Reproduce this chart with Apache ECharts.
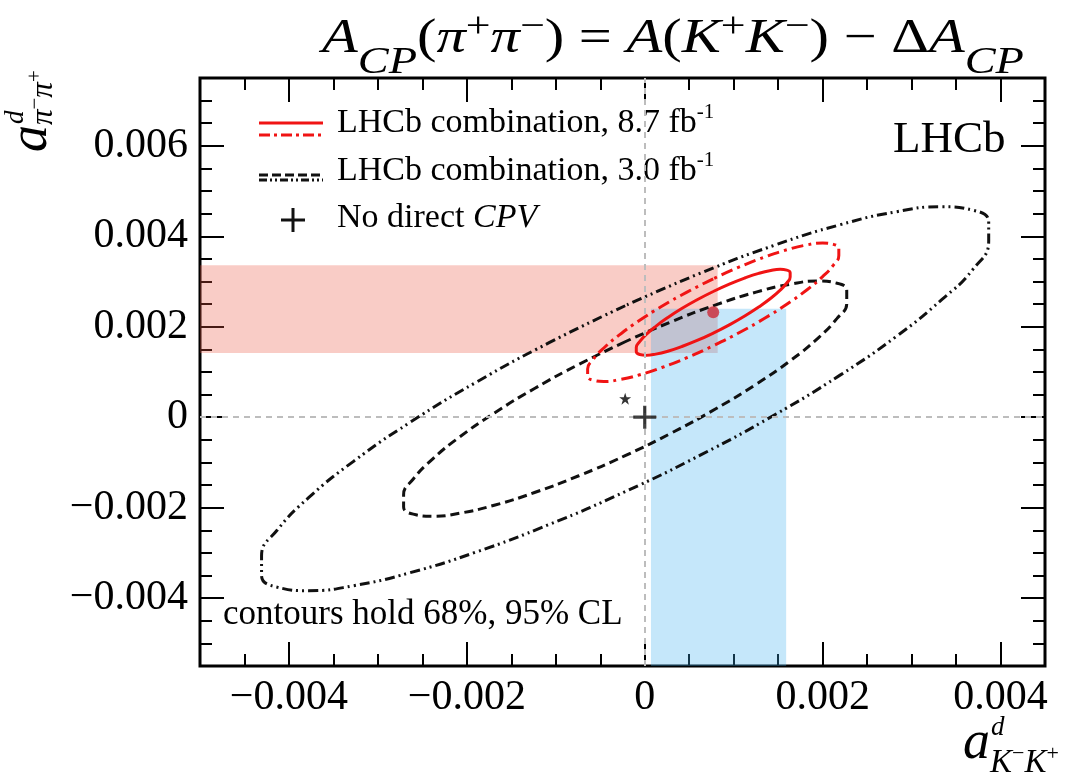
<!DOCTYPE html>
<html>
<head>
<meta charset="utf-8">
<script src="https://cdn.jsdelivr.net/npm/echarts@6/dist/echarts.min.js"></script>
<style>
  html, body { margin: 0; padding: 0; background: #fff; }
  #main { width: 1067px; height: 775px; }
</style>
</head>
<body>
<div id="main"></div>
<script>
const SERIF = '"Liberation Serif", "Times New Roman", serif';

// ---- axes ----
const xRange = [-0.005, 0.0045];
const yRange = [-0.0055, 0.0075];
const xMajorTicks = [-0.004, -0.002, 0, 0.002, 0.004];
const xMinorTicks = [-0.0045, -0.0035, -0.003, -0.0025, -0.0015, -0.001, -0.0005,
                     0.0005, 0.001, 0.0015, 0.0025, 0.003, 0.0035];
const yMajorTicks = [-0.004, -0.002, 0, 0.002, 0.004, 0.006];
const yMinorTicks = [-0.005, -0.0045, -0.0035, -0.003, -0.0025, -0.0015, -0.001, -0.0005,
                     0.0005, 0.001, 0.0015, 0.0025, 0.003, 0.0035, 0.0045, 0.005, 0.0055,
                     0.0065, 0.007];

// ---- single-observable bands ----
const pipiBandY = [0.00142, 0.00336];   // A_CP(pi+pi-) band (a_pipi direction)
const pipiBandXEnd = 0.00082;
const kkBandX = [0.00007, 0.00159];     // A(K+K-) band (a_KK direction)
const kkBandYEnd = 0.0024;

// ---- central values ----
const centre87 = [7.7e-4, 23.2e-4];     // 8.7 fb^-1 combination
const centre30 = [-2.2e-4, 4.1e-4];     // 3.0 fb^-1 combination
const noCPV = [0, 0];

// ---- confidence contours [a_KK, a_pipi] ----
const red68 = [
  [7.70e-4, 27.80e-4], [5.89e-4, 25.97e-4], [4.16e-4, 24.02e-4], [2.59e-4, 22.03e-4],
  [1.24e-4, 20.10e-4], [0.17e-4, 18.30e-4], [-0.57e-4, 16.72e-4], [-0.95e-4, 15.41e-4],
  [-0.95e-4, 14.45e-4], [-0.57e-4, 13.87e-4], [0.17e-4, 13.70e-4], [1.24e-4, 13.95e-4],
  [2.59e-4, 14.59e-4], [4.16e-4, 15.62e-4], [5.89e-4, 16.97e-4], [7.70e-4, 18.60e-4],
  [9.51e-4, 20.43e-4], [11.24e-4, 22.38e-4], [12.81e-4, 24.37e-4], [14.17e-4, 26.30e-4],
  [15.23e-4, 28.10e-4], [15.97e-4, 29.68e-4], [16.35e-4, 30.99e-4], [16.35e-4, 31.95e-4],
  [15.97e-4, 32.53e-4], [15.23e-4, 32.70e-4], [14.17e-4, 32.45e-4], [12.81e-4, 31.81e-4],
  [11.24e-4, 30.78e-4], [9.51e-4, 29.43e-4], [7.70e-4, 27.80e-4]
];
const red95 = [
  [7.70e-4, 30.61e-4], [4.75e-4, 27.66e-4], [1.92e-4, 24.52e-4], [-0.65e-4, 21.32e-4],
  [-2.85e-4, 18.21e-4], [-4.60e-4, 15.31e-4], [-5.81e-4, 12.76e-4], [-6.42e-4, 10.66e-4],
  [-6.42e-4, 9.11e-4], [-5.81e-4, 8.18e-4], [-4.60e-4, 7.90e-4], [-2.85e-4, 8.30e-4],
  [-0.65e-4, 9.34e-4], [1.92e-4, 10.99e-4], [4.75e-4, 13.17e-4], [7.70e-4, 15.79e-4],
  [10.65e-4, 18.74e-4], [13.48e-4, 21.88e-4], [16.05e-4, 25.08e-4], [18.25e-4, 28.19e-4],
  [20.00e-4, 31.09e-4], [21.21e-4, 33.64e-4], [21.82e-4, 35.74e-4], [21.82e-4, 37.29e-4],
  [21.21e-4, 38.22e-4], [20.00e-4, 38.50e-4], [18.25e-4, 38.10e-4], [16.05e-4, 37.06e-4],
  [13.48e-4, 35.41e-4], [10.65e-4, 33.23e-4], [7.70e-4, 30.61e-4]
];
const black68 = [
  [-2.20e-4, 16.69e-4], [-7.41e-4, 11.68e-4], [-12.39e-4, 6.35e-4], [-16.92e-4, 0.91e-4],
  [-20.82e-4, -4.38e-4], [-23.89e-4, -9.31e-4], [-26.02e-4, -13.65e-4], [-27.11e-4, -17.21e-4],
  [-27.11e-4, -19.84e-4], [-26.02e-4, -21.43e-4], [-23.89e-4, -21.90e-4], [-20.82e-4, -21.23e-4],
  [-16.92e-4, -19.46e-4], [-12.39e-4, -16.65e-4], [-7.41e-4, -12.94e-4], [-2.20e-4, -8.49e-4],
  [3.01e-4, -3.48e-4], [7.99e-4, 1.86e-4], [12.52e-4, 7.29e-4], [16.42e-4, 12.58e-4],
  [19.49e-4, 17.51e-4], [21.62e-4, 21.85e-4], [22.71e-4, 25.16e-4], [22.71e-4, 28.04e-4],
  [21.62e-4, 29.63e-4], [19.49e-4, 30.10e-4], [16.42e-4, 29.43e-4], [12.52e-4, 27.66e-4],
  [7.99e-4, 24.85e-4], [3.01e-4, 21.14e-4], [-2.20e-4, 16.69e-4]
];
const black95 = [
  [-2.20e-4, 24.65e-4], [-10.75e-4, 16.48e-4], [-18.92e-4, 7.77e-4], [-26.36e-4, -1.11e-4],
  [-32.74e-4, -9.75e-4], [-37.79e-4, -17.79e-4], [-41.29e-4, -24.88e-4], [-43.08e-4, -30.69e-4],
  [-43.08e-4, -34.99e-4], [-41.29e-4, -37.58e-4], [-37.79e-4, -38.34e-4], [-32.74e-4, -37.25e-4],
  [-26.36e-4, -34.36e-4], [-18.92e-4, -29.78e-4], [-10.75e-4, -23.72e-4], [-2.20e-4, -16.45e-4],
  [6.35e-4, -8.28e-4], [14.52e-4, 0.43e-4], [21.96e-4, 9.31e-4], [28.34e-4, 17.95e-4],
  [33.39e-4, 25.99e-4], [36.89e-4, 32.68e-4], [38.67e-4, 38.99e-4], [38.67e-4, 43.19e-4],
  [36.89e-4, 45.78e-4], [33.39e-4, 46.54e-4], [28.34e-4, 45.45e-4], [21.96e-4, 42.56e-4],
  [14.52e-4, 37.98e-4], [6.35e-4, 31.92e-4], [-2.20e-4, 24.65e-4]
];

const RED = '#f01414';
const BLACK = '#111111';

// ---- text helpers (baseline-aligned runs of serif text) ----
const meas = document.createElement('canvas').getContext('2d');
function fontOf(size, italic) { return (italic ? 'italic ' : '') + size + 'px ' + SERIF; }
function textWidth(t, size, italic) { meas.font = fontOf(size, italic); return meas.measureText(t).width; }
function txt(t, size, italic, x, base) {
  return {
    type: 'text', x: x, y: base - 0.3375 * size, silent: true,
    style: {
      text: t, font: fontOf(size, italic), fill: '#000',
      textAlign: 'left', textVerticalAlign: 'middle', align: 'left', verticalAlign: 'middle'
    }
  };
}
// parts: [text, size, italic, baselineShift]
function runText(parts, x0, base) {
  let x = x0;
  const out = [];
  parts.forEach(function (p) {
    out.push(txt(p[0], p[1], p[2], x, base + (p[3] || 0)));
    x += textWidth(p[0], p[1], p[2]);
  });
  return out;
}
function hline(x1, x2, y, color, width, dash) {
  return {
    type: 'line', silent: true,
    shape: { x1: x1, y1: y, x2: x2, y2: y },
    style: { stroke: color, lineWidth: width, lineDash: dash || null }
  };
}

// title
const titleParts = [
  ['A', 48, true], ['CP', 38, true, 20], ['(', 48, false], ['\u03C0', 48, true],
  ['+', 36, false, -16], ['\u03C0', 48, true], ['\u2212', 36, false, -16], [')', 48, false],
  [' = ', 48, false], ['A', 48, true], ['(', 48, false], ['K', 48, true],
  ['+', 36, false, -16], ['K', 48, true], ['\u2212', 36, false, -16], [')', 48, false],
  [' \u2212 ', 48, false], ['\u0394', 48, false], ['A', 48, true], ['CP', 38, true, 20]
];

// axis names
const aW = textWidth('a', 54, true);
const xNameEls = [
  txt('a', 54, true, 963, 762),
  txt('d', 27, true, 963 + aW + 1, 737)
].concat(runText([['K', 33, true], ['\u2212', 22, false, -12], ['K', 33, true], ['+', 22, false, -12]],
                 963 + aW, 774));
const yNameEls = [
  txt('a', 54, true, 0, 0),
  txt('d', 27, true, aW + 1, -25)
].concat(runText([['\u03C0', 31, true], ['\u2212', 21, false, -11], ['\u03C0', 31, true], ['+', 21, false, -11]],
                 aW, 4));

// legend
const legendEls = [
  hline(259, 323, 123, RED, 3),
  hline(259, 323, 135, RED, 3, [11, 4, 3, 4]),
  hline(259, 323, 175, BLACK, 3, [9, 4]),
  hline(259, 323, 180, BLACK, 3, [8, 3, 2, 3, 2, 3]),
  hline(281, 305, 220, BLACK, 3),
  { type: 'line', silent: true, shape: { x1: 293, y1: 208, x2: 293, y2: 232 }, style: { stroke: BLACK, lineWidth: 3 } }
].concat(
  runText([['LHCb combination, 8.7 fb', 34, false], ['-1', 21, false, -15]], 337, 135),
  runText([['LHCb combination, 3.0 fb', 34, false], ['-1', 21, false, -15]], 337, 183),
  runText([['No direct ', 34, false], ['CPV', 34, true]], 337, 230)
);

const chart = echarts.init(document.getElementById('main'), null, { renderer: 'canvas' });

function tickAxis(dim, position, values, len, labels) {
  const ax = {
    type: 'value', position: position,
    min: dim === 'x' ? xRange[0] : yRange[0],
    max: dim === 'x' ? xRange[1] : yRange[1],
    axisLine: { show: false, onZero: false },
    splitLine: { show: false },
    axisTick: { show: true, inside: true, length: len, customValues: values,
                lineStyle: { color: '#000', width: 2 } },
    axisLabel: { show: false }
  };
  if (labels) {
    ax.axisLabel = {
      show: true, customValues: values, color: '#000',
      fontFamily: SERIF, fontSize: 42, margin: dim === 'x' ? 11 : 12,
      formatter: function (v) {
        if (Math.abs(v) < 1e-12) return '0';
        return v.toFixed(3).replace('-', '\u2212');
      }
    };
  }
  return ax;
}

const option = {
  animation: false,
  backgroundColor: '#fff',
  grid: {
    left: 200, right: 22, top: 78, bottom: 109,
    show: true, borderColor: '#000', borderWidth: 3, backgroundColor: 'transparent'
  },
  xAxis: [
    tickAxis('x', 'bottom', xMajorTicks, 24, true),
    tickAxis('x', 'bottom', xMinorTicks, 12),
    tickAxis('x', 'top', xMajorTicks, 24),
    tickAxis('x', 'top', xMinorTicks, 12)
  ],
  yAxis: [
    tickAxis('y', 'left', yMajorTicks, 24, true),
    tickAxis('y', 'left', yMinorTicks, 12),
    tickAxis('y', 'right', yMajorTicks, 24),
    tickAxis('y', 'right', yMinorTicks, 12)
  ],
  series: [
    {
      name: 'bands', type: 'line', data: [], z: 1, silent: true,
      markArea: {
        silent: true,
        data: [
          [{ coord: [xRange[0], pipiBandY[0]], itemStyle: { color: 'rgba(236, 86, 66, 0.30)' } },
           { coord: [pipiBandXEnd, pipiBandY[1]] }],
          [{ coord: [kkBandX[0], yRange[0]], itemStyle: { color: 'rgba(62, 175, 238, 0.30)' } },
           { coord: [kkBandX[1], kkBandYEnd] }]
        ]
      }
    },
    {
      name: 'zero', type: 'line', data: [], z: 2, silent: true,
      markLine: {
        silent: true, symbol: ['none', 'none'], label: { show: false },
        lineStyle: { color: '#bdbdbd', width: 2, type: [6, 5] },
        data: [{ xAxis: 0 }, { yAxis: 0 }]
      }
    },
    {
      name: 'LHCb combination, 3.0 fb-1 (95%)', type: 'line', data: black95, z: 3,
      smooth: 0.5, showSymbol: false, symbol: 'none', silent: true,
      lineStyle: { color: BLACK, width: 3, type: [10, 4, 2, 4, 2, 4] }
    },
    {
      name: 'LHCb combination, 3.0 fb-1 (68%)', type: 'line', data: black68, z: 3,
      smooth: 0.5, showSymbol: false, symbol: 'none', silent: true,
      lineStyle: { color: BLACK, width: 3, type: [9, 5] }
    },
    {
      name: 'LHCb combination, 8.7 fb-1 (95%)', type: 'line', data: red95, z: 4,
      smooth: 0.5, showSymbol: false, symbol: 'none', silent: true,
      lineStyle: { color: RED, width: 3, type: [12, 5, 3, 5] }
    },
    {
      name: 'LHCb combination, 8.7 fb-1 (68%)', type: 'line', data: red68, z: 4,
      smooth: 0.5, showSymbol: false, symbol: 'none', silent: true,
      lineStyle: { color: RED, width: 3 }
    },
    {
      name: 'No direct CPV', type: 'scatter', data: [noCPV], z: 5, silent: true,
      symbol: 'path://M4.3,0H5.7V4.3H10V5.7H5.7V10H4.3V5.7H0V4.3H4.3Z', symbolSize: 23,
      itemStyle: { color: BLACK }
    },
    {
      name: 'centre 3.0', type: 'scatter', data: [centre30], z: 5, silent: true,
      symbol: 'path://M50,2L61.8,37.6H99L69,59.5L80.4,95L50,73.1L19.6,95L31,59.5L1,37.6H38.2Z',
      symbolSize: 12, itemStyle: { color: '#000' }
    },
    {
      name: 'centre 8.7', type: 'scatter', data: [centre87], z: 5, silent: true,
      symbol: 'circle', symbolSize: 12, itemStyle: { color: '#cc2a3a' }
    }
  ],
  graphic: {
    elements: [
      { type: 'group', x: 322, y: 0, scaleX: 1.22, z: 10, children: runText(titleParts, 0, 56) },
      { type: 'group', x: 0, y: 0, z: 10, children: xNameEls },
      { type: 'group', x: 50, y: 152, rotation: Math.PI / 2, z: 10, children: yNameEls },
      { type: 'group', x: 0, y: 0, z: 10, children: legendEls },
      { type: 'group', x: 0, y: 0, z: 10, children: [
        txt('LHCb', 45, false, 893, 155),
        txt('contours hold 68%, 95% CL', 35, false, 223, 627)
      ] }
    ]
  }
};
chart.setOption(option);
</script>
</body>
</html>
